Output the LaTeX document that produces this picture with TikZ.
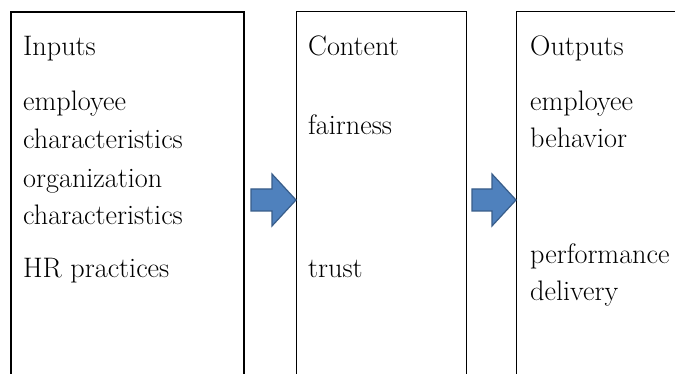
\documentclass[tikz,border=0pt]{standalone}
\begin{document}
\begin{tikzpicture}[x=1pt,y=-1pt,
  panel/.style={draw=black, line width=1.4pt, anchor=north west, inner sep=0pt, minimum height=400pt},
  label/.style={anchor=base west, inner sep=0pt, font=\fontsize{28.2}{34}\selectfont},
  blockarrow/.style={fill=arrowblue, draw=arrowedge, line width=1.2pt, line join=miter}]
\definecolor{arrowblue}{RGB}{79,129,189}
\definecolor{arrowedge}{RGB}{56,93,138}
\useasboundingbox (0,0) rectangle (675,374);
\clip (0,0) rectangle (675,374);
\fill[white] (0,0) rectangle (675,374);

% three stage panels, running off the lower edge
\node[panel, line width=2pt, minimum width=233pt] (inputs) at (10,11) {};
\node[panel, minimum width=170pt] (content) at (296,11) {};
\node[panel, minimum width=200pt] (outputs) at (516,11) {};

% Inputs
\node[label] (tin)  at (23,56)  {Inputs};
\node[label] (tin1) at (23,111) {employee};
\node[label] (tin2) at (23,149) {characteristics};
\node[label] (tin3) at (23,188) {organization};
\node[label] (tin4) at (23,225) {characteristics};
\node[label] (tin5) at (23,277) {HR practices};

% Content
\node[label] (tct)  at (308,56)  {Content};
\node[label] (tct1) at (308,135) {fairness};
\node[label] (tct2) at (308,277) {trust};

% Outputs
\node[label] (tout)  at (530,56)  {Outputs};
\node[label] (tout1) at (530,111) {employee};
\node[label] (tout2) at (530,148) {behavior};
\node[label] (tout3) at (530,264) {performance};
\node[label] (tout4) at (530,300) {delivery};

% block arrows between the panels
\coordinate (tipA) at (content.west |- 0,200);
\coordinate (tipB) at (outputs.west |- 0,200);
\draw[blockarrow] (tipA) -- ++(-24,-26) -- ++(0,15) -- ++(-21,0) -- ++(0,22) -- ++(21,0) -- ++(0,15) -- cycle;
\draw[blockarrow] (tipB) -- ++(-24,-26) -- ++(0,15) -- ++(-20,0) -- ++(0,22) -- ++(20,0) -- ++(0,15) -- cycle;
\end{tikzpicture}
\end{document}
